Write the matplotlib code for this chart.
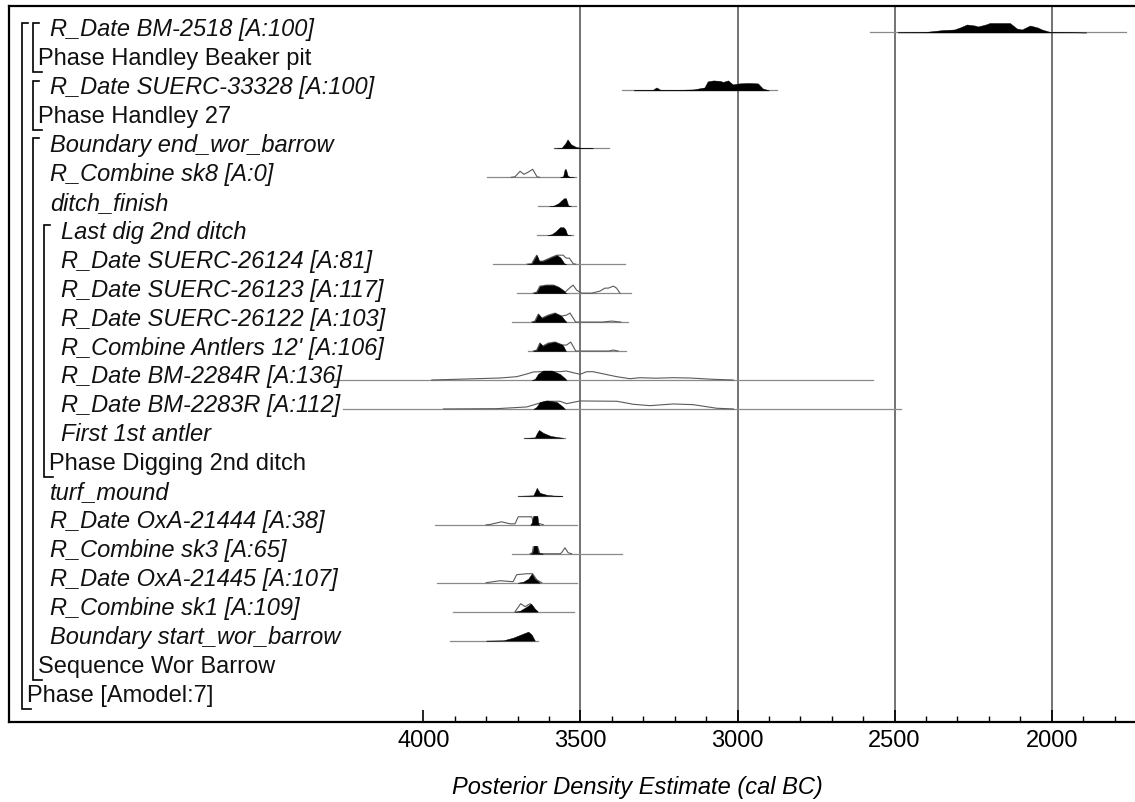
import matplotlib.pyplot as plt
import numpy as np

plt.rcParams['font.family'] = ['Liberation Sans', 'DejaVu Sans']

# Row labels, top to bottom
labels = [
    "R_Date BM-2518 [A:100]", "Phase Handley Beaker pit",
    "R_Date SUERC-33328 [A:100]", "Phase Handley 27",
    "Boundary end_wor_barrow", "R_Combine sk8 [A:0]", "ditch_finish",
    "Last dig 2nd ditch", "R_Date SUERC-26124 [A:81]",
    "R_Date SUERC-26123 [A:117]", "R_Date SUERC-26122 [A:103]",
    "R_Combine Antlers 12' [A:106]", "R_Date BM-2284R [A:136]",
    "R_Date BM-2283R [A:112]", "First 1st antler", "Phase Digging 2nd ditch",
    "turf_mound", "R_Date OxA-21444 [A:38]", "R_Combine sk3 [A:65]",
    "R_Date OxA-21445 [A:107]", "R_Combine sk1 [A:109]",
    "Boundary start_wor_barrow", "Sequence Wor Barrow", "Phase [Amodel:7]",
]
# depth of nesting for each row label (items are italic)
label_depth = [2, 1, 2, 1, 2, 2, 2, 3, 3, 3, 3, 3, 3, 3, 3, 2,
               2, 2, 2, 2, 2, 2, 1, 0]
is_item = [True, False, True, False, True, True, True, True, True, True,
           True, True, True, True, True, False, True, True, True, True,
           True, True, False, False]

# brackets: (first row, label row, level)
groups = [(0, 23, 0), (0, 1, 1), (2, 3, 1), (4, 22, 1), (7, 15, 2)]

# range lines (cal BC)
range_start = [2578, None, 3369, None, 3584, 3798, 3634, 3639, 3777, 3703,
               3719, 3668, 4290, 4255, 3680, None, 3700, 3963, 3719, 3958,
               3904, 3915, None, None]
range_end = [1764, None, 2874, None, 3409, 3515, 3515, 3523, 3358, 3340,
             3349, 3355, 2570, 2480, 3549, None, 3558, 3510, 3369, 3510,
             3519, 3636, None, None]

# posterior densities (filled)
post_x = [
    [2490, 2400, 2345, 2330, 2310, 2292, 2270, 2245, 2235, 2210, 2197, 2133,
     2111, 2095, 2069, 2045, 2031, 2006, 1950, 1890],
    None,
    [3330, 3270, 3258, 3245, 3200, 3140, 3105, 3095, 3077, 3055, 3046, 3030,
     3015, 2995, 2965, 2935, 2920, 2900],
    None,
    [3584, 3560, 3548, 3541, 3530, 3515, 3496, 3460],
    [3565, 3555, 3550, 3546, 3541, 3535, 3520],
    [3600, 3586, 3570, 3560, 3552, 3546, 3539, 3530],
    [3605, 3591, 3578, 3565, 3554, 3548, 3542, 3530],
    [3670, 3655, 3645, 3639, 3631, 3620, 3605, 3591, 3575, 3565, 3560, 3552,
     3545],
    [3650, 3639, 3629, 3607, 3586, 3570, 3556, 3549, 3544],
    [3655, 3645, 3634, 3623, 3602, 3581, 3560, 3550, 3544],
    [3650, 3639, 3629, 3620, 3602, 3581, 3556, 3546],
    [3655, 3645, 3635, 3619, 3591, 3565, 3550, 3544],
    [3650, 3640, 3629, 3607, 3575, 3555, 3549],
    [3680, 3645, 3638, 3632, 3618, 3595, 3576, 3554],
    None,
    [3700, 3650, 3643, 3639, 3629, 3607, 3586, 3558],
    [3660, 3655, 3650, 3637, 3634, 3630],
    [3660, 3653, 3648, 3639, 3634, 3619],
    [3700, 3682, 3666, 3655, 3645, 3629],
    [3710, 3692, 3671, 3657, 3645, 3636],
    [3800, 3745, 3714, 3682, 3666, 3655, 3645],
    None, None,
]
post_h = [
    [0.2, 0.6, 2.5, 2.7, 3, 5, 8, 7, 6, 8, 9.5, 9.5, 4, 3, 7, 5, 3, 0.6, 0.4, 0],
    None,
    [0.3, 0.5, 3, 0.5, 0.5, 1, 3, 9, 10, 9.5, 8.5, 10, 6, 7, 7.5, 7, 2, 0],
    None,
    [0, 0.5, 5, 9, 4, 1.5, 0.3, 0],
    [0, 1, 8, 8, 2, 0.5, 0],
    [0, 0.5, 3, 6, 8, 8, 1, 0],
    [0, 1, 4, 8, 8, 6, 0.5, 0],
    [0, 0.5, 6, 9, 3, 3, 5, 7, 9, 7, 5, 1, 0],
    [0, 1, 7, 8, 8, 6, 3, 1, 0],
    [0, 1, 8, 4, 7, 9, 6, 2, 0],
    [0, 1, 8, 5, 8, 9, 6, 0],
    [0, 1, 6, 9.5, 9.5, 6, 2, 0],
    [0, 2, 7, 8.5, 7, 2, 0],
    [0, 0.5, 5, 8, 5, 2, 1, 0],
    None,
    [0, 0.5, 5, 8, 3, 1, 0.3, 0],
    [0, 2, 9, 9, 1, 0],
    [0, 1, 8, 8, 1, 0],
    [0, 1, 4, 9, 4, 0],
    [0, 1, 5, 8, 3, 0],
    [0, 0.3, 3, 7, 9, 6, 0],
    None, None,
]

# unmodelled likelihoods (outline)
prior_x = [
    None, None, None, None, None,
    [3720, 3708, 3692, 3680, 3667, 3652, 3638, 3630],
    None, None,
    [3670, 3655, 3645, 3639, 3631, 3620, 3605, 3591, 3575, 3560, 3555, 3545,
     3535, 3523, 3515],
    [3650, 3639, 3629, 3607, 3586, 3570, 3556, 3549, 3535, 3523, 3512, 3496,
     3464, 3438, 3422, 3411, 3395, 3385, 3374],
    [3655, 3645, 3634, 3623, 3602, 3581, 3560, 3544, 3533, 3523, 3515, 3430,
     3400, 3371],
    [3650, 3639, 3629, 3620, 3602, 3581, 3556, 3544, 3531, 3520, 3515, 3410,
     3395, 3380],
    [3973, 3862, 3756, 3703, 3671, 3650, 3629, 3565, 3545, 3528, 3501, 3480,
     3460, 3384, 3342, 3311, 3260, 3205, 3152, 3078, 3014],
    [3936, 3766, 3671, 3639, 3607, 3565, 3544, 3501, 3384, 3332, 3279, 3204,
     3141, 3066, 3013],
    None, None, None,
    [3800, 3788, 3751, 3724, 3708, 3698, 3655, 3650, 3639, 3618],
    [3660, 3653, 3650, 3636, 3629, 3565, 3560, 3549, 3539, 3528],
    [3800, 3793, 3756, 3714, 3703, 3671, 3652, 3639, 3623],
    [3708, 3690, 3676, 3660, 3645, 3636],
    None, None, None,
]
prior_h = [
    None, None, None, None, None,
    [0, 0.5, 6, 3, 5, 8, 0.5, 0],
    None, None,
    [0, 0.5, 6, 9, 3, 3, 5, 7, 9, 9, 9, 6, 6, 0.5, 0],
    [0, 1, 7, 8, 8, 6, 3, 1, 5, 8, 3, 0, 0, 2, 5, 5, 7, 5, 0],
    [0, 1, 8, 4, 7, 9, 6, 7, 9, 4, 0, 0, 1, 0],
    [0, 1, 8, 5, 8, 9, 6, 6, 9, 3, 0, 0, 1, 0],
    [0, 1, 2, 3.3, 6, 8, 8.3, 8.3, 9, 7.7, 5.7, 8.3, 8.3, 3.3, 1.3, 2.3,
     1.8, 2.3, 2, 0.7, 0],
    [0, 0.3, 2, 5, 7.7, 7.7, 5.3, 8, 7.7, 4.7, 3.3, 5, 4.3, 0.7, 0],
    None, None, None,
    [0, 0.3, 3, 1, 1, 8, 8, 3, 2, 0],
    [0, 1, 7, 7, 0, 0, 1, 6, 1, 0],
    [0, 0.3, 2, 1, 8, 9, 9, 3, 0],
    [0, 8, 5, 8, 2, 0],
    None, None, None,
]

major_ticks = [4000, 3500, 3000, 2500, 2000]
minor_ticks = list(range(4000, 1700, -100))
grid_years = [3500, 3000, 2500, 2000]

# ---- figure ----
W, H = 1135, 803
fig = plt.figure(figsize=(W / 100, H / 100), dpi=100)
ax = fig.add_axes([9 / W, 80 / H, 1126 / W, 716 / H])
x_left, x_right = 5318.6, 1734.9
ax.set_xlim(x_left, x_right)
ax.set_ylim(23.81, -0.915)
row_px = 716 / (23.81 + 0.915)
h_scale = 1 / row_px


def px_to_year(px):
    return x_left - (px - 9) * (x_left - x_right) / 1126


for yr in grid_years:
    ax.axvline(yr, color='#4d4d4d', lw=1.1, zorder=1)

for i in range(len(labels)):
    if range_start[i] is not None:
        ax.plot([range_start[i], range_end[i]], [i, i], color='#8a8a8a',
                lw=0.9, zorder=2)
    if prior_x[i] is not None:
        ph = np.array(prior_h[i]) * h_scale
        ax.plot(prior_x[i], i - ph, color='#5a5a5a', lw=0.8, zorder=3)
    if post_x[i] is not None:
        h = np.array(post_h[i]) * h_scale
        ax.fill_between(post_x[i], i, i - h, color='black', lw=0.3,
                        edgecolor='black', zorder=4)

# labels
for i, lab in enumerate(labels):
    d = label_depth[i]
    if is_item[i]:
        xpx = 22 + 11 * (d - 2) + 28 if d >= 2 else 27
    else:
        xpx = 27 + 11 * d
    ax.text(px_to_year(xpx), i + 0.086, lab, fontsize=17,
            style='italic' if is_item[i] else 'normal',
            ha='left', va='baseline', color='#111111', zorder=5)

# brackets
for top, bot, lev in groups:
    bx = 22 + 11 * lev
    yt, yb = top - 0.34, bot + 0.36
    ax.plot([px_to_year(bx + 6), px_to_year(bx), px_to_year(bx),
             px_to_year(bx + 9)], [yt, yt, yb, yb], color='black', lw=1.2,
            solid_joinstyle='miter', zorder=5)

# axis styling
for s in ['left', 'top', 'bottom']:
    ax.spines[s].set_linewidth(1.6)
ax.spines['right'].set_visible(False)
ax.set_yticks([])
ax.set_xticks(major_ticks)
ax.set_xticks(minor_ticks, minor=True)
ax.tick_params(axis='x', which='major', direction='in', length=9, width=1.2,
               labelsize=17, pad=5)
ax.tick_params(axis='x', which='minor', direction='in', length=4.5, width=1.0)
fig.text(637 / W, 1 - 788 / H, "Posterior Density Estimate (cal BC)",
         fontsize=17, style='italic', ha='center', va='center')

fig.savefig('out.png', dpi=100)
